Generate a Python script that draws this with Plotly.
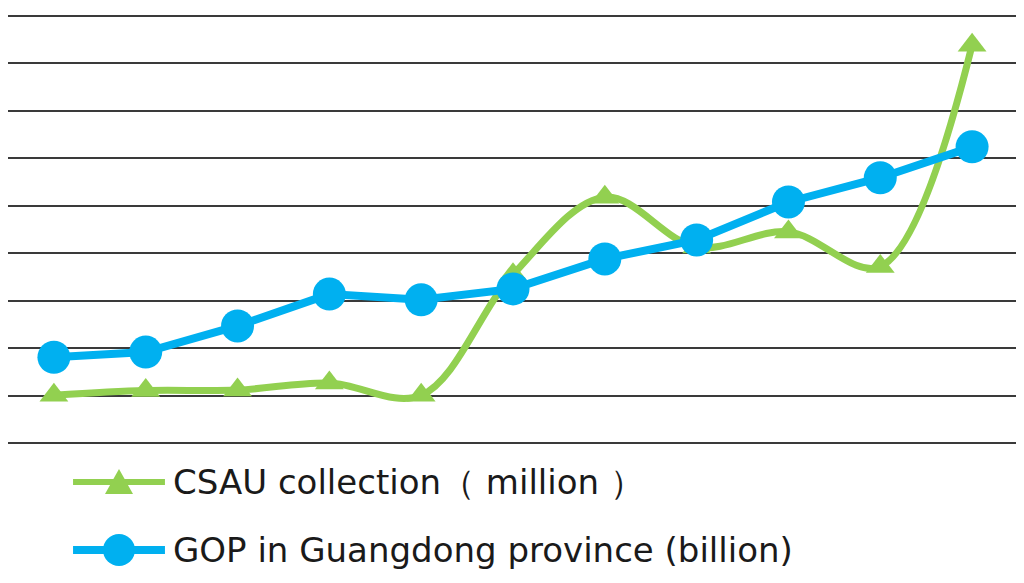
"""
CSAU collection vs GOP in Guangdong province - line chart
"""

import plotly.graph_objects as go

# data (11 years, no axis labels shown)
years = list(range(11))
csau_collection = [1.01, 1.11, 1.12, 1.27, 1.01, 3.55, 5.18, 4.13, 4.45, 3.72, 8.38]
gop_guangdong = [1.81, 1.92, 2.47, 3.14, 3.02, 3.25, 3.88, 4.28, 5.08, 5.59, 6.24]

names = ['CSAU collection（ million ）', 'GOP in Guangdong province (billion)']
colores = {'csau': '#92D050', 'gop': '#00B0F0'}
y_ticks = list(range(10))

fig = go.Figure()

fig.add_trace(go.Scatter(
    x=years,
    y=csau_collection,
    mode='lines+markers',
    name=names[0],
    line=dict(color=colores['csau'], width=7, shape='spline', smoothing=1.0),
    marker=dict(symbol='triangle-up', size=25, color=colores['csau']),
    showlegend=False
))

fig.add_trace(go.Scatter(
    x=years,
    y=gop_guangdong,
    mode='lines+markers',
    name=names[1],
    line=dict(color=colores['gop'], width=8),
    marker=dict(symbol='circle', size=33, color=colores['gop']),
    showlegend=False
))

# hand-made legend (plotly's legend sample is too short)
leyenda = [
    (names[0], colores['csau'], -0.0778, 6),
    (names[1], colores['gop'], -0.2334, 8),
]
x_ini, x_fin, x_mid, x_txt = 0.0644, 0.1554, 0.1099, 0.1614
for i, (texto, color, y_pos, ancho) in enumerate(leyenda):
    fig.add_shape(type='line', xref='paper', yref='paper',
                  x0=x_ini, x1=x_fin, y0=y_pos, y1=y_pos,
                  line=dict(color=color, width=ancho))
    if i == 0:
        fig.add_shape(type='path', xref='paper', yref='paper',
                      xsizemode='pixel', ysizemode='pixel',
                      xanchor=x_mid, yanchor=y_pos,
                      path='M -14,-12 L 14,-12 L 0,13 Z',
                      fillcolor=color, line=dict(width=0))
    else:
        fig.add_shape(type='circle', xref='paper', yref='paper',
                      xsizemode='pixel', ysizemode='pixel',
                      xanchor=x_mid, yanchor=y_pos,
                      x0=-16, x1=16, y0=-16, y1=16,
                      fillcolor=color, line=dict(width=0))
    fig.add_annotation(text=texto, xref='paper', yref='paper',
                       x=x_txt, y=y_pos, xanchor='left', yanchor='middle',
                       showarrow=False,
                       font=dict(family='DejaVu Sans', size=34, color='#1a1a1a'))

# the page body has an 8px margin, so the figure is sized to fit inside it
fig.update_layout(
    width=1016,
    height=575,
    plot_bgcolor='white',
    paper_bgcolor='white',
    margin=dict(l=0, r=6, t=3, b=135),
    xaxis=dict(range=[-0.5, 10.5], showgrid=False, showticklabels=False,
               zeroline=False, showline=False, ticks=''),
    yaxis=dict(range=[-0.1, 9.1], tickvals=y_ticks, showticklabels=False,
               showgrid=True, gridcolor='#3a3a3a', gridwidth=2,
               zeroline=True, zerolinecolor='#3a3a3a', zerolinewidth=2,
               showline=False, ticks=''),
)

fig.write_html("out.html")
